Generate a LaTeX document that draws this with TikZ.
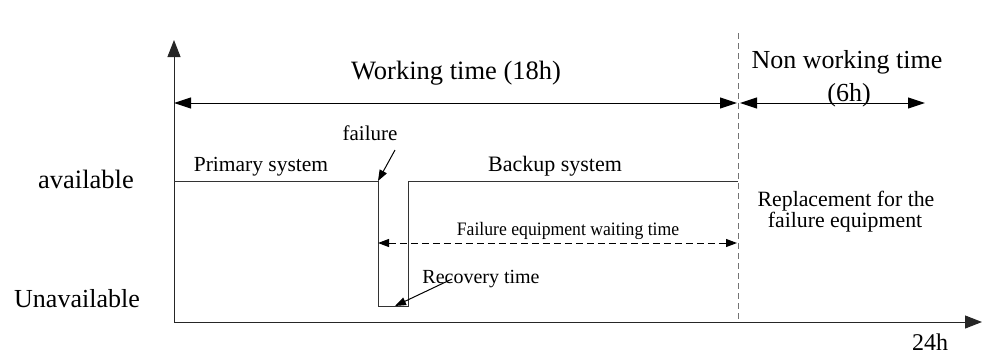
\documentclass[tikz,border=0pt]{standalone}
\usepackage{fontspec}
\setmainfont{Liberation Serif}
\usetikzlibrary{arrows.meta}
\begin{document}
\begin{tikzpicture}[x=1pt, y=-1pt, line width=1pt,
  txt/.style={anchor=base, inner sep=0pt},
  axis/.style={draw=black!85, -{Triangle[length=17pt,width=13pt]}},
  span/.style={draw=black, {Triangle[length=17pt,width=11pt]}-{Triangle[length=17pt,width=11pt]}},
  level/.style={draw=black!80},
  pointer/.style={draw=black, -{Triangle[length=11pt,width=8pt]}},
  waitspan/.style={draw=black, dash pattern=on 7pt off 4pt,
    {Triangle[length=11pt,width=8pt]}-{Triangle[length=11pt,width=8pt]}},
  divider/.style={draw=black!55, line width=0.8pt, dash pattern=on 6pt off 4pt}]
\useasboundingbox (0,0) rectangle (982,354);

% axes
\coordinate (O) at (174,322);
\coordinate (ytop) at (174,40);
\coordinate (xend) at (982,322);
\draw[axis] (O) -- (ytop);
\draw[axis] (O) -- (xend);

% end of the working day
\coordinate (dtop) at (738,33);
\coordinate (dbot) at (738,322);
\draw[divider] (dtop) -- (dbot);

% working / non working spans
\coordinate (w1) at (174,103);
\coordinate (w2) at (737,103);
\coordinate (n1) at (740,103);
\coordinate (n2) at (925,103);
\draw[span] (w1) -- (w2);
\draw[span] (n1) -- (n2);

% availability level
\coordinate (a0) at (174,181);
\coordinate (fa) at (378,181);
\coordinate (fb) at (378,306);
\coordinate (ra) at (408,306);
\coordinate (rb) at (408,181);
\coordinate (a1) at (738,181);
\draw[level] (a0) -- (fa) -- (fb) -- (ra) -- (rb) -- (a1);

% waiting time span
\coordinate (q1) at (378,243);
\coordinate (q2) at (737,243);
\draw[waitspan] (q1) -- (q2);

% labels
\node[txt, font=\fontsize{26.5}{30}\selectfont] (wt) at (456,79) {Working time (18h)};
\node[txt, font=\fontsize{26}{30}\selectfont] (nw) at (847,68) {Non working time};
\node[txt, font=\fontsize{26}{30}\selectfont] (nh) at (849,101) {(6h)};
\node[txt, font=\fontsize{26.5}{30}\selectfont] (av) at (86,188) {available};
\node[txt, font=\fontsize{26}{30}\selectfont] (un) at (77,307) {Unavailable};
\node[txt, font=\fontsize{21.5}{25}\selectfont] (ps) at (261,171) {Primary system};
\node[txt, font=\fontsize{22}{25}\selectfont] (bs) at (555,171) {Backup system};
\node[txt, font=\fontsize{21}{25}\selectfont] (fl) at (370,140) {failure};
\node[txt, font=\fontsize{20}{24}\selectfont] (rt) at (481,283) {Recovery time};
\node[txt, font=\fontsize{19}{23}\selectfont] (fw) at (568,235) {\scalebox{0.93}[1]{Failure equipment waiting time}};
\node[txt, font=\fontsize{21.8}{24}\selectfont] (rp1) at (846,206) {Replacement for the};
\node[txt, font=\fontsize{21.8}{24}\selectfont] (rp2) at (845,227) {failure equipment};
\node[txt, font=\fontsize{24}{28}\selectfont] (h24) at (930,350) {24h};

% pointers
\coordinate (fp) at (395,150);
\coordinate (rp) at (452,279);
\draw[pointer] (fp) -- (fa);
\draw[pointer] (rp) -- ([xshift=-13pt]ra);
\end{tikzpicture}
\end{document}
